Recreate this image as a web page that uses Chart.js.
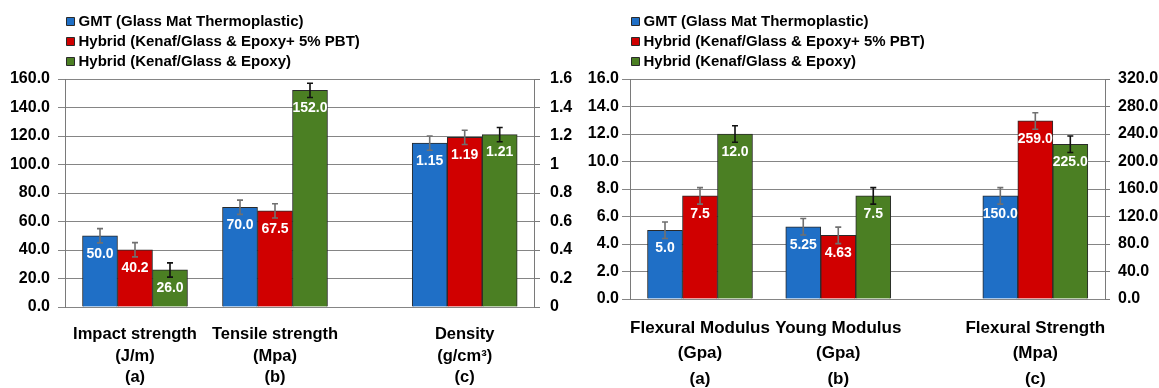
<!DOCTYPE html>
<html>
<head>
<meta charset="utf-8">
<script src="https://cdn.jsdelivr.net/npm/chart.js@4.4.1/dist/chart.umd.min.js"></script>
<style>
  html, body { margin: 0; padding: 0; background: #ffffff; }
  #wrap { position: relative; width: 1159px; height: 388px; overflow: hidden; }
  canvas { position: absolute; top: 0; }
  #left { left: 0; }
  #right { left: 580px; }
</style>
</head>
<body>
<div id="wrap">
  <canvas id="left" width="580" height="388"></canvas>
  <canvas id="right" width="579" height="388"></canvas>
</div>
<script>
// ---- data ----
const seriesNames = [
  'GMT (Glass Mat Thermoplastic)',
  'Hybrid (Kenaf/Glass & Epoxy+ 5% PBT)',
  'Hybrid (Kenaf/Glass & Epoxy)'
];
const panelTags = ['(a)', '(b)', '(c)'];

// Left panel: first two groups on the left axis, density on the right axis
const leftGroups = ['Impact strength', 'Tensile strength', 'Density'];
const leftUnits = ['(J/m)', '(Mpa)', '(g/cm³)'];
const leftGMT = [50.0, 70.0, 1.15];
const leftPBT = [40.2, 67.5, 1.19];
const leftEpoxy = [26.0, 152.0, 1.21];
const leftSpread = [5.0, 5.0, 0.05];
const leftAxisTicks = [0, 160, 20];     // min, max, step
const leftAxis2Ticks = [0, 1.6, 0.2];

// Right panel: moduli on the left axis, flexural strength on the right axis
const rightGroups = ['Flexural Modulus', 'Young Modulus', 'Flexural Strength'];
const rightUnits = ['(Gpa)', '(Gpa)', '(Mpa)'];
const rightGMT = [5.0, 5.25, 150.0];
const rightPBT = [7.5, 4.63, 259.0];
const rightEpoxy = [12.0, 7.5, 225.0];
const rightSpread = [0.6, 0.6, 12.0];
const rightAxisTicks = [0, 16, 2];
const rightAxis2Ticks = [0, 320, 40];

// ---- styling ----
Chart.defaults.font.family = "'Liberation Sans', Arial, sans-serif";
Chart.defaults.color = '#000000';

const barColors = ['#1f6fc6', '#d00000', '#4b7f23'];
const errColors = ['#707070', '#707070', '#111111'];

function valueText(v) {
  const tenth = v * 10;
  return Math.abs(Math.round(tenth) - tenth) < 1e-9 ? v.toFixed(1) : v.toFixed(2);
}

// error bars and in-bar value labels
const barDecor = {
  id: 'barDecor',
  afterDatasetsDraw(chart) {
    const ctx = chart.ctx;
    chart.data.datasets.forEach((ds, di) => {
      const meta = chart.getDatasetMeta(di);
      if (meta.hidden) return;
      const yScale = chart.scales[meta.yAxisID];
      meta.data.forEach((bar, i) => {
        const v = ds.data[i].y;
        const e = ds.errors[i];
        const yTop = yScale.getPixelForValue(v + e);
        const yBot = yScale.getPixelForValue(v - e);
        ctx.save();
        ctx.strokeStyle = ds.errorColor;
        ctx.lineWidth = 1.6;
        ctx.beginPath();
        ctx.moveTo(bar.x, yTop); ctx.lineTo(bar.x, yBot);
        ctx.moveTo(bar.x - 3, yTop); ctx.lineTo(bar.x + 3, yTop);
        ctx.moveTo(bar.x - 3, yBot); ctx.lineTo(bar.x + 3, yBot);
        ctx.stroke();
        ctx.restore();
      });
    });
    chart.data.datasets.forEach((ds, di) => {
      const meta = chart.getDatasetMeta(di);
      if (meta.hidden) return;
      meta.data.forEach((bar, i) => {
        ctx.save();
        ctx.fillStyle = '#ffffff';
        ctx.font = "bold 14px 'Liberation Sans', Arial, sans-serif";
        ctx.textAlign = 'center';
        ctx.textBaseline = 'middle';
        ctx.fillText(valueText(ds.data[i].y), bar.x, bar.y + 18);
        ctx.restore();
      });
    });
  }
};

function buildPanel(canvas, groups, units, series, spread, axis1, axis2, L) {
  const datasets = [];
  series.forEach((vals, s) => {
    datasets.push({
      label: seriesNames[s],
      yAxisID: 'y',
      stack: 'primary' + s,
      data: [0, 1].map(g => ({ x: L.slots[g], y: vals[g] })),
      errors: [spread[0], spread[1]],
      backgroundColor: barColors[s],
      errorColor: errColors[s]
    });
  });
  series.forEach((vals, s) => {
    datasets.push({
      label: seriesNames[s],
      yAxisID: 'y2',
      stack: 'secondary' + s,
      data: [{ x: L.slots[2], y: vals[2] }],
      errors: [spread[2]],
      backgroundColor: barColors[s],
      errorColor: errColors[s]
    });
  });

  return new Chart(canvas, {
    type: 'bar',
    data: { datasets },
    options: {
      responsive: false,
      animation: false,
      devicePixelRatio: 1,
      layout: { padding: { top: 9, left: 0, right: 0, bottom: 0 } },
      datasets: {
        bar: {
          barThickness: 35,
          skipNull: true,
          borderWidth: 1,
          borderColor: '#2a2a2a'
        }
      },
      plugins: {
        tooltip: { enabled: false },
        legend: {
          position: 'top',
          align: 'start',
          fullSize: false,
          labels: {
            filter: item => item.datasetIndex < 3,
            usePointStyle: true,
            pointStyle: 'rect',
            boxWidth: 1,
            boxHeight: 8,
            padding: 5,
            color: '#000000',
            font: { size: 15, weight: 'bold' }
          }
        }
      },
      scales: {
        x: {
          type: 'linear',
          min: 0,
          max: L.span,
          bounds: 'data',
          offset: false,
          stacked: false,
          grid: { display: false },
          border: { display: false },
          afterBuildTicks: s => { s.ticks = L.slots.map(v => ({ value: v })); },
          afterFit: s => { s.height = L.xHeight; },
          ticks: {
            autoSkip: false,
            maxRotation: 0,
            padding: L.labelPad,
            color: '#000000',
            font: { size: L.labelFont, weight: 'bold', lineHeight: L.labelLine },
            callback: (v, i) => [groups[i], units[i], panelTags[i]]
          }
        },
        y: {
          position: 'left',
          min: axis1[0],
          max: axis1[1],
          stacked: false,
          afterFit: s => { s.width = L.yWidth; },
          ticks: {
            stepSize: axis1[2],
            padding: L.yPad,
            color: '#000000',
            font: { size: 16, weight: 'bold' },
            callback: v => v.toFixed(1)
          },
          grid: { color: '#858585', lineWidth: 1, tickLength: L.yTick },
          border: { display: true, color: '#7a7a7a', width: 1 }
        },
        y2: {
          position: 'right',
          min: axis2[0],
          max: axis2[1],
          stacked: false,
          afterFit: s => { s.width = L.y2Width; },
          ticks: {
            stepSize: axis2[2],
            padding: L.y2Pad,
            color: '#000000',
            font: { size: 16, weight: 'bold' },
            callback: L.y2Format
          },
          grid: { drawOnChartArea: false, color: '#7a7a7a', tickLength: L.y2Tick },
          border: { display: true, color: '#7a7a7a', width: 1 }
        }
      }
    },
    plugins: [barDecor]
  });
}

buildPanel(
  document.getElementById('left'),
  leftGroups, leftUnits, [leftGMT, leftPBT, leftEpoxy], leftSpread,
  leftAxisTicks, leftAxis2Ticks,
  {
    yWidth: 65, y2Width: 46, xHeight: 81,
    span: 13.4, slots: [2, 6, 11.42],
    labelFont: 16.5, labelLine: 1.3, labelPad: 9,
    yTick: 7, yPad: 8, y2Tick: 6, y2Pad: 10,
    y2Format: v => String(Math.round(v * 10) / 10)
  }
);

buildPanel(
  document.getElementById('right'),
  rightGroups, rightUnits, [rightGMT, rightPBT, rightEpoxy], rightSpread,
  rightAxisTicks, rightAxis2Ticks,
  {
    yWidth: 50, y2Width: 54, xHeight: 89,
    span: 13.571, slots: [2, 5.95, 11.58],
    labelFont: 17, labelLine: 1.48, labelPad: 9,
    yTick: 8, yPad: 3, y2Tick: 5, y2Pad: 8,
    y2Format: v => v.toFixed(1)
  }
);
</script>
</body>
</html>
